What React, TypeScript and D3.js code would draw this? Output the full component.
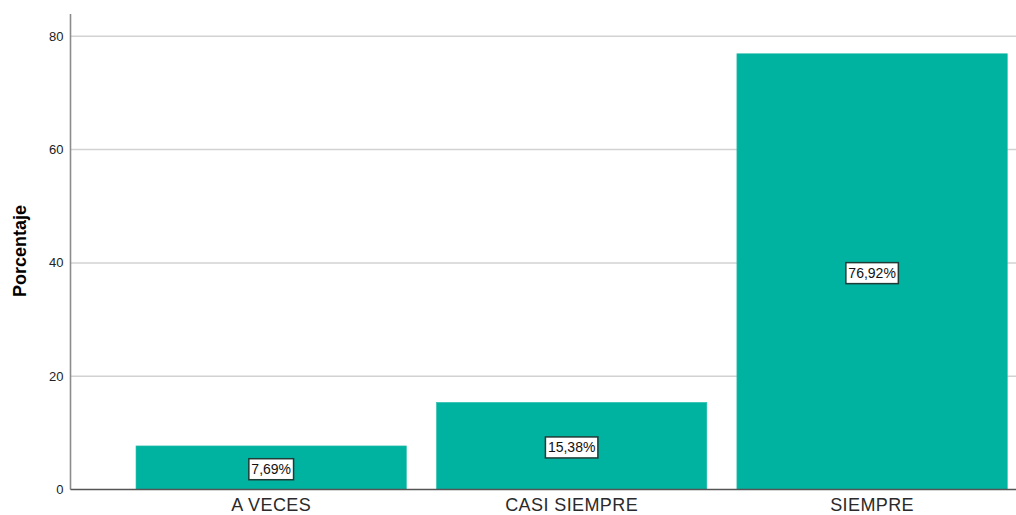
import React, { useEffect, useRef } from "react";
import * as d3 from "d3";

const categories = ["A VECES", "CASI SIEMPRE", "SIEMPRE"];
const values = [7.69, 15.38, 76.92];
const valueLabels = ["7,69%", "15,38%", "76,92%"];
const yTicks = [0, 20, 40, 60, 80];
const yTitle = "Porcentaje";

export default function App() {
  const ref = useRef<SVGSVGElement | null>(null);

  useEffect(() => {
    const svg = d3.select(ref.current);
    svg.selectAll("*").remove();
    const W = 1016, H = 515;
    const axisX = 70.5;
    const x = d3.scaleBand<string>().domain(categories).range([136, 1007.3]).paddingInner(0.1).paddingOuter(0);
    const y = d3.scaleLinear().domain([0, 80]).range([489.5, 36.3]);
    const font = "Arial, 'Liberation Sans', sans-serif";

    svg.append("rect").attr("width", W).attr("height", H).attr("fill", "#ffffff");

    // gridlines
    svg.append("g").selectAll("line").data(yTicks.filter((t) => t > 0)).join("line")
      .attr("x1", axisX).attr("x2", W)
      .attr("y1", (d) => y(d)).attr("y2", (d) => y(d))
      .attr("stroke", "#d2d2d2").attr("stroke-width", 1.5);

    // bars
    svg.append("g").selectAll("rect").data(values).join("rect")
      .attr("x", (_, i) => x(categories[i])!)
      .attr("width", x.bandwidth())
      .attr("y", (d) => y(d))
      .attr("height", (d) => y(0) - y(d))
      .attr("fill", "#00b2a0")
      .attr("stroke", "#2fbfae").attr("stroke-width", 0.6);

    // axes
    svg.append("line").attr("x1", axisX).attr("x2", axisX).attr("y1", 14).attr("y2", y(0))
      .attr("stroke", "#8c8c8c").attr("stroke-width", 1.6);
    svg.append("line").attr("x1", axisX).attr("x2", W).attr("y1", y(0)).attr("y2", y(0))
      .attr("stroke", "#555555").attr("stroke-width", 1.4);

    // y tick labels
    svg.append("g").selectAll("text").data(yTicks).join("text")
      .attr("x", 63.5).attr("y", (d) => y(d)).attr("dy", "0.35em")
      .attr("text-anchor", "end").attr("font-family", font).attr("font-size", 13)
      .attr("fill", "#222").text((d) => String(d));

    // x category labels
    svg.append("g").selectAll("text").data(categories).join("text")
      .attr("x", (d) => x(d)! + x.bandwidth() / 2).attr("y", 511)
      .attr("text-anchor", "middle").attr("font-family", font).attr("font-size", 18)
      .attr("letter-spacing", 0.4)
      .attr("fill", "#2a2a2a").text((d) => d);

    // y title
    svg.append("text")
      .attr("transform", `translate(26,251) rotate(-90)`)
      .attr("text-anchor", "middle").attr("font-family", font).attr("font-size", 18)
      .attr("font-weight", "bold").attr("fill", "#000").text(yTitle);

    // value labels
    const lg = svg.append("g");
    values.forEach((v, i) => {
      const cx = x(categories[i])! + x.bandwidth() / 2;
      const cy = (y(v) + y(0)) / 2 + 1.5;
      const g = lg.append("g");
      const rect = g.append("rect");
      const t = g.append("text").attr("x", cx).attr("y", cy).attr("dy", "0.36em")
        .attr("text-anchor", "middle").attr("font-family", font).attr("font-size", 14)
        .attr("fill", "#111").text(valueLabels[i]);
      const bw = (t.node() as SVGTextElement).getComputedTextLength();
      const w = bw + 5, h = 21;
      rect.attr("x", cx - w / 2).attr("y", cy - h / 2).attr("width", w).attr("height", h)
        .attr("fill", "#ffffff").attr("stroke", "#1f3b36").attr("stroke-width", 1.5);
    });
  }, []);

  return (
    <svg ref={ref} width={1016} height={515}
      style={{ position: "absolute", left: 0, top: 0, display: "block" }} />
  );
}
